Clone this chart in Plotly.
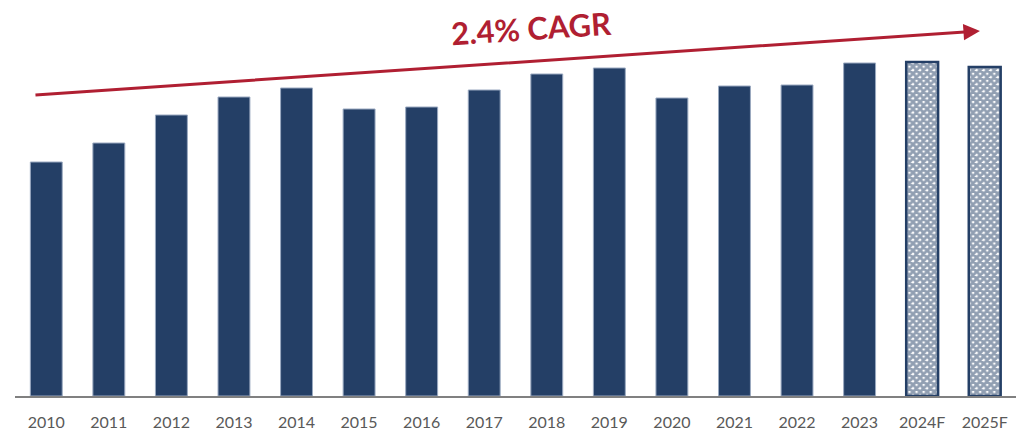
import plotly.graph_objects as go

# bar chart with CAGR arrow
years = ["2010", "2011", "2012", "2013", "2014", "2015", "2016", "2017",
         "2018", "2019", "2020", "2021", "2022", "2023", "2024F", "2025F"]
values = [234, 253, 281, 299, 308, 287, 289, 306, 322, 328, 298, 310, 311, 333, 334, 329]
forecast = [False] * 14 + [True, True]

navy = "#243F66"
red = "#B01F32"

hist_x = [y for y, f in zip(years, forecast) if not f]
hist_y = [v for v, f in zip(values, forecast) if not f]
fc_x = [y for y, f in zip(years, forecast) if f]
fc_y = [v for v, f in zip(values, forecast) if f]

fig = go.Figure()
fig.add_trace(go.Bar(
    x=hist_x, y=hist_y,
    marker=dict(color=navy, line=dict(color="#9aa9c0", width=1)),
    showlegend=False
))
fig.add_trace(go.Bar(
    x=fc_x, y=fc_y,
    marker=dict(
        color="white",
        line=dict(color=navy, width=2.5),
        pattern=dict(shape="x", fgcolor=navy, bgcolor="white", size=5, solidity=0.8)
    ),
    showlegend=False
))

# trend arrow
fig.add_annotation(
    xref="paper", yref="paper", x=0.964, y=0.9456,
    axref="pixel", ayref="pixel", ax=-946, ay=64,
    showarrow=True, arrowhead=2, arrowsize=1.1, arrowwidth=3, arrowcolor=red,
    text=""
)
fig.add_annotation(
    xref="paper", yref="paper", x=0.515, y=0.953,
    text="<b>2.4% CAGR</b>", showarrow=False, textangle=-3.85,
    font=dict(family="Lato", size=31, color=red),
    yanchor="middle"
)

fig.update_layout(
    width=1023, height=433,
    margin=dict(l=15, r=7, t=10, b=37),
    plot_bgcolor="white", paper_bgcolor="white",
    bargap=0.49, barmode="overlay",
    xaxis=dict(
        categoryorder="array", categoryarray=years, range=[-0.5, 15.5],
        showline=True, linecolor="#808080", linewidth=2,
        ticks="outside", ticklen=11, tickcolor="rgba(0,0,0,0)",
        tickfont=dict(family="Lato", size=16, color="#595959"),
        showgrid=False, automargin=False
    ),
    yaxis=dict(range=[0, 386], visible=False, showgrid=False)
)

# drop the default page margin so the figure sits at the window corner
fig.write_html("out.html", config={"displayModeBar": False},
               post_script="document.body.style.margin='0';")
